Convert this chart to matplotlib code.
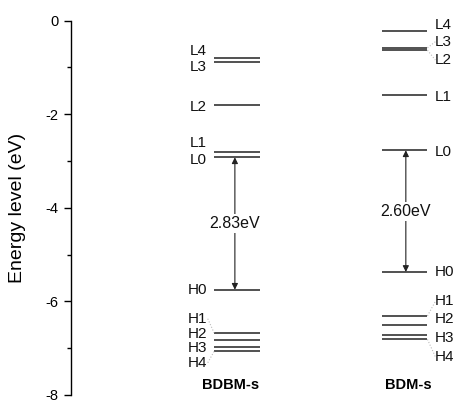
import matplotlib
matplotlib.use("Agg")
import matplotlib.pyplot as plt
from matplotlib.ticker import MultipleLocator

plt.rcParams['font.family'] = ['Liberation Sans', 'DejaVu Sans']
plt.rcParams['axes.unicode_minus'] = False

# orbital energies (eV)
names = ["L4", "L3", "L2", "L1", "L0", "H0", "H1", "H2", "H3", "H4"]
bdbm_s = [-0.79, -0.89, -1.80, -2.81, -2.92, -5.75, -6.67, -6.82, -6.98, -7.07]
bdm_s = [-0.22, -0.58, -0.63, -1.59, -2.77, -5.37, -6.31, -6.50, -6.72, -6.81]
gaps = ["2.83eV", "2.60eV"]
molecules = ["BDBM-s", "BDM-s"]

# where the level names sit (spread out so they don't overlap)
bdbm_lab_y = [-0.64, -1.00, -1.84, -2.62, -2.98, -5.75, -6.37, -6.69, -6.99, -7.31]
bdm_lab_y = [-0.09, -0.45, -0.84, -1.63, -2.80, -5.38, -6.00, -6.37, -6.78, -7.18]
bdbm_leaders = ["H1", "H4"]
bdm_leaders = ["L3", "L2", "H1", "H4"]

fig = plt.figure(figsize=(4.64, 4.05), dpi=100)
ax = fig.add_axes([71/464, 1 - 395/405, 1 - 71/464, (395 - 20.7)/405])
ax.set_xlim(0, 10)
ax.set_ylim(-8, 0)

lc = "#333333"
hw = 0.58

cols = [
    (4.22, bdbm_s, bdbm_lab_y, bdbm_leaders, "left"),
    (8.49, bdm_s, bdm_lab_y, bdm_leaders, "right"),
]

for i, (xc, levels, lab_y, leaders, side) in enumerate(cols):
    for name, e, ly in zip(names, levels, lab_y):
        ax.plot([xc - hw, xc + hw], [e, e], color=lc, lw=1.2, solid_capstyle="butt")
        if side == "left":
            tx = xc - hw - 0.18
            ax.text(tx, ly, name, ha="right", va="center", fontsize=11, color="#111111")
            if name in leaders:
                ax.plot([tx + 0.02, xc - hw], [ly, e], color="#bbbbbb", lw=0.8, ls=":")
        else:
            tx = xc + hw + 0.18
            ax.text(tx, ly, name, ha="left", va="center", fontsize=11, color="#111111")
            if name in leaders:
                ax.plot([xc + hw, tx + 0.02], [e, ly], color="#bbbbbb", lw=0.8, ls=":")

    # HOMO-LUMO gap arrow
    lumo = levels[names.index("L0")]
    homo = levels[names.index("H0")]
    xa = xc - 0.05 if side == "left" else xc + 0.03
    ax.annotate("", xy=(xa, lumo), xytext=(xa, homo),
                arrowprops=dict(arrowstyle="<|-|>", color="#222222", lw=0.8,
                                mutation_scale=9, shrinkA=0, shrinkB=0))
    ax.text(xa, (lumo + homo) / 2, gaps[i], ha="center", va="center", fontsize=11.5,
            color="#111111", bbox=dict(facecolor="white", edgecolor="none", pad=1.5))

    ax.text(xc - (0.17 if side == "left" else -0.09), -7.78, molecules[i],
            ha="center", va="center", fontsize=10.5, fontweight="bold")

for s in ["top", "right", "bottom"]:
    ax.spines[s].set_visible(False)
ax.spines["left"].set_linewidth(1.0)
ax.set_xticks([])
ax.yaxis.set_major_locator(MultipleLocator(2))
ax.yaxis.set_minor_locator(MultipleLocator(1))
ax.tick_params(axis="y", which="major", direction="out", length=5, width=1.0, labelsize=10.5, pad=4)
ax.tick_params(axis="y", which="minor", direction="out", length=3, width=1.0)
ax.set_ylabel("Energy level (eV)", fontsize=14, labelpad=14)

fig.savefig("out.png", dpi=100)
